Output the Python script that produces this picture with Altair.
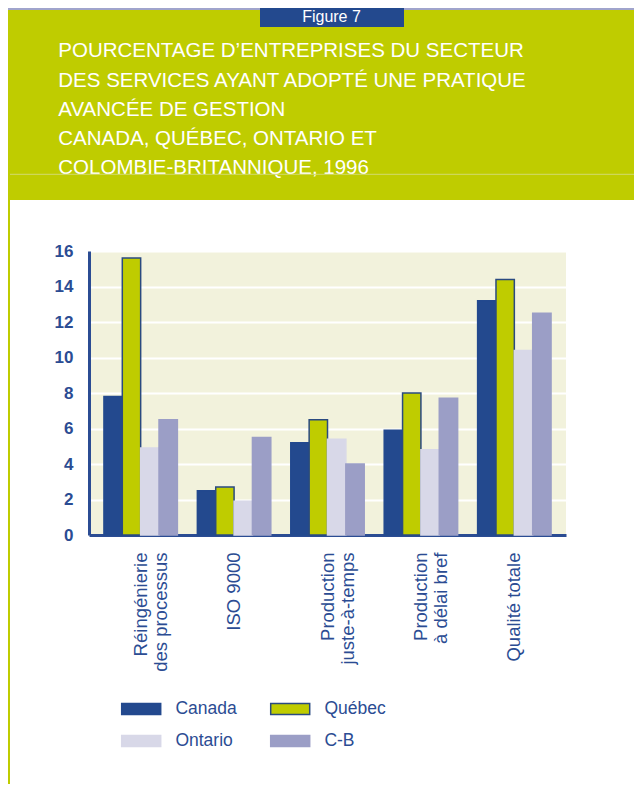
import altair as alt
import pandas as pd

# ---------------- data ----------------
categories = ["Réingénierie\ndes processus", "ISO 9000", "Production\njuste-à-temps",
              "Production\nà délai bref", "Qualité totale"]
series = ["Canada", "Québec", "Ontario", "C-B"]
canada = [7.8, 2.5, 5.2, 5.9, 13.2]
quebec = [15.6, 2.7, 6.5, 8.0, 14.4]
ontario = [4.9, 1.9, 5.4, 4.8, 10.4]
cb = [6.5, 5.5, 4.0, 7.7, 12.5]
y_ticks = [0, 2, 4, 6, 8, 10, 12, 14, 16]
title_lines = ["POURCENTAGE D’ENTREPRISES DU SECTEUR",
               "DES SERVICES AYANT ADOPTÉ UNE PRATIQUE",
               "AVANCÉE DE GESTION",
               "CANADA, QUÉBEC, ONTARIO ET",
               "COLOMBIE-BRITANNIQUE, 1996"]
figure_label = "Figure 7"

rows = []
for s, vals in zip(series, [canada, quebec, ontario, cb]):
    for c, v in zip(categories, vals):
        rows.append({"categorie": c, "region": s, "valeur": v})
df = pd.DataFrame(rows)

# ---------------- styles ----------------
NAVY = "#23498e"
GREEN = "#bfcc00"
LAV = "#a0a4cc"
TXT = "#2b4c93"
FONT = "Liberation Sans"
fills = [NAVY, GREEN, "#d8d8e8", "#9b9ec6"]
strokes = [NAVY, "#2a4a80", "#d8d8e8", "#9b9ec6"]

legend = alt.Legend(
    title=None, orient="none", legendX=31.7, legendY=437.5, columns=2, direction="horizontal",
    symbolType="M-1,-0.282L1,-0.282L1,0.282L-1,0.282Z", symbolSize=1521,
    symbolStrokeWidth=1.5, symbolOpacity=1,
    labelFont=FONT, labelFontSize=17.5, labelColor=TXT, labelOffset=13.7,
    columnPadding=30, rowPadding=3, padding=0,
)

bars = alt.Chart(df).mark_bar(strokeWidth=1.5).encode(
    x=alt.X("categorie:N", sort=categories,
            scale=alt.Scale(paddingInner=0.214, paddingOuter=0.16),
            axis=alt.Axis(title=None, labelAngle=270, labelAlign="right", labelBaseline="middle",
                          labelExpr="split(datum.label, '\\n')", labelFont=FONT, labelFontSize=18.5,
                          labelLineHeight=20, labelColor=TXT, labelPadding=17, ticks=False,
                          domainColor=TXT, domainWidth=3, grid=False, labelLimit=300)),
    xOffset=alt.XOffset("region:N", sort=series),
    y=alt.Y("valeur:Q", scale=alt.Scale(domain=[0, 16], nice=False),
            axis=alt.Axis(title=None, values=y_ticks, labelFont=FONT, labelFontSize=17,
                          labelFontWeight="bold", labelColor=TXT, labelPadding=16, ticks=False,
                          domainColor=TXT, domainWidth=3, grid=True, gridColor="white",
                          gridWidth=2)),
    fill=alt.Fill("region:N", sort=series, scale=alt.Scale(domain=series, range=fills), legend=legend),
    stroke=alt.Stroke("region:N", sort=series, scale=alt.Scale(domain=series, range=strokes), legend=legend),
)

one = pd.DataFrame({"k": [0]})
band = alt.Chart(one).mark_rect(color=GREEN).encode(
    x=alt.value(-81), x2=alt.value(545), y=alt.value(-241), y2=alt.value(-51))
top_strip = alt.Chart(one).mark_rect(color=LAV).encode(
    x=alt.value(-81), x2=alt.value(545), y=alt.value(-243), y2=alt.value(-241))
fig_box = alt.Chart(one).mark_rect(color=NAVY).encode(
    x=alt.value(171), x2=alt.value(315), y=alt.value(-243), y2=alt.value(-224))
fig_text = alt.Chart(one).mark_text(text=figure_label, font=FONT, fontSize=16, color="white",
                                    align="center", baseline="alphabetic").encode(
    x=alt.value(242.5), y=alt.value(-229))
title_text = alt.Chart(one).mark_text(text=title_lines, font=FONT, fontSize=20.5, lineHeight=29.3,
                                      color="white", align="left", baseline="alphabetic").encode(
    x=alt.value(-30.7), y=alt.value(-193.7))
thin_line = alt.Chart(one).mark_rule(color="#d2da70", strokeWidth=1).encode(
    x=alt.value(-79), x2=alt.value(545), y=alt.value(-76.7))
left_line = alt.Chart(one).mark_rule(color=GREEN, strokeWidth=2).encode(
    x=alt.value(-80), y=alt.value(-241), y2=alt.value(533))

chart = alt.layer(band, top_strip, fig_box, fig_text, title_text, thin_line, left_line, bars).properties(
    width=477, height=284, autosize="none",
    padding={"left": 81, "top": 243, "right": 68, "bottom": 249},
    background="white",
).configure_view(fill="#f2f2dc", strokeWidth=0)

chart.save("out.html", embed_options={"renderer": "svg", "actions": False})
